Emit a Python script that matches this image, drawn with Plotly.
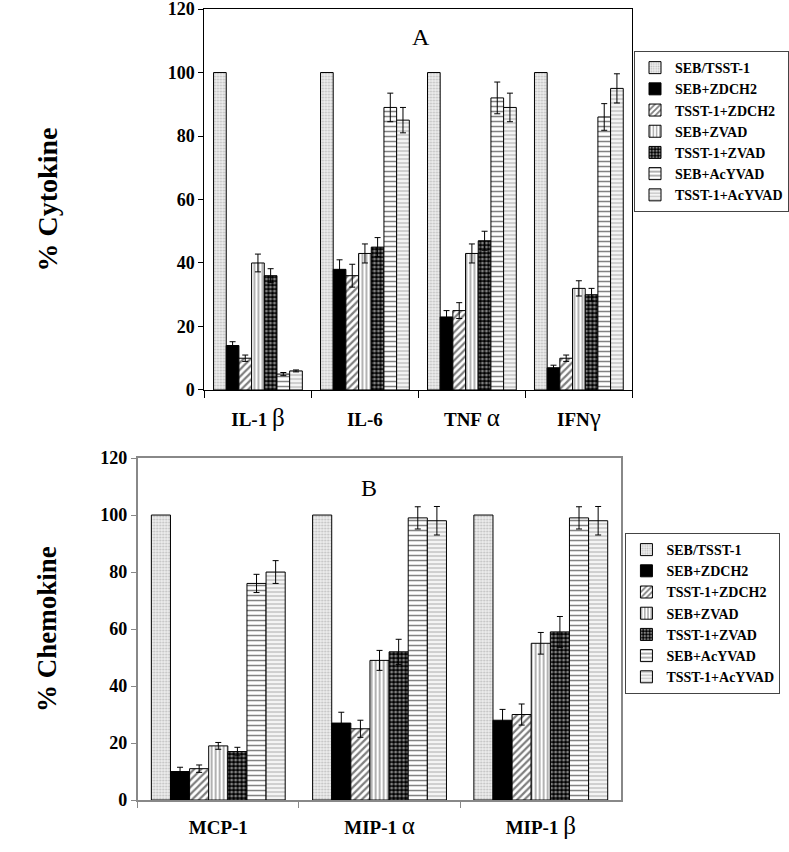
import plotly.graph_objects as go

series_names = ["SEB/TSST-1", "SEB+ZDCH2", "TSST-1+ZDCH2", "SEB+ZVAD",
                "TSST-1+ZVAD", "SEB+AcYVAD", "TSST-1+AcYVAD"]

cats_A = ["<b>IL-1</b> <span style='font-size:25px'>β</span>",
          "<b>IL-6</b>",
          "<b>TNF</b> <span style='font-size:25px'>α</span>",
          "<b>IFN</b><span style='font-size:25px'>γ</span>"]
cats_B = ["<b>MCP-1</b>",
          "<b>MIP-1</b> <span style='font-size:25px'>α</span>",
          "<b>MIP-1</b> <span style='font-size:25px'>β</span>"]

# values per series (one entry per category)
vals_A = [
    [100, 100, 100, 100],
    [14, 38, 23, 7],
    [10, 36, 25, 10],
    [40, 43, 43, 32],
    [36, 45, 47, 30],
    [5, 89, 92, 86],
    [6, 85, 89, 95],
]
errs_A = [
    [0, 0, 0, 0],
    [1.2, 3, 2, 0.8],
    [1, 3.6, 2.5, 1],
    [2.8, 3, 3, 2.4],
    [2.2, 3, 3, 2],
    [0.5, 4.5, 5, 4.2],
    [0.3, 4, 4.5, 4.6],
]
vals_B = [
    [100, 100, 100],
    [10, 27, 28],
    [11, 25, 30],
    [19, 49, 55],
    [17, 52, 59],
    [76, 99, 99],
    [80, 98, 98],
]
errs_B = [
    [0, 0, 0],
    [1.5, 3.8, 3.8],
    [1.3, 3, 3.7],
    [1.2, 3.5, 3.8],
    [1.5, 4.4, 5.4],
    [3.2, 3.9, 3.9],
    [4, 5, 5],
]

y_ticks = [0, 20, 40, 60, 80, 100, 120]

styles = [
    dict(color="#ededed", pattern=dict(shape=".", fgcolor="#8a8a8a", size=3, solidity=0.3)),
    dict(color="black", pattern=dict(shape="")),
    dict(color="white", pattern=dict(shape="/", fgcolor="black", size=5, solidity=0.45)),
    dict(color="white", pattern=dict(shape="|", fgcolor="black", size=4, solidity=0.3)),
    dict(color="black", pattern=dict(shape=".", fgcolor="white", size=4, solidity=0.45)),
    dict(color="white", pattern=dict(shape="-", fgcolor="black", size=5, solidity=0.3)),
    dict(color="#f4f4f4", pattern=dict(shape="-", fgcolor="#8a8a8a", size=4, solidity=0.35)),
]

FONT = "Liberation Serif"
fig = go.Figure()

for i, name in enumerate(series_names):
    st = styles[i]
    mk = dict(color=st["color"], pattern=st["pattern"], line=dict(color="black", width=1))
    eA = errs_A[i]
    fig.add_trace(go.Bar(
        x=cats_A, y=vals_A[i], name=name, marker=mk,
        error_y=dict(type="data", array=eA, visible=any(e > 0 for e in eA),
                     color="black", thickness=1, width=3),
        xaxis="x", yaxis="y", legend="legend", showlegend=True))
    eB = errs_B[i]
    fig.add_trace(go.Bar(
        x=cats_B, y=vals_B[i], name=name, marker=mk,
        error_y=dict(type="data", array=eB, visible=any(e > 0 for e in eB),
                     color="black", thickness=1, width=3),
        xaxis="x2", yaxis="y2", legend="legend2", showlegend=True))

tickfont_y = dict(family=FONT, size=18, color="black", weight="bold")
tickfont_x = dict(family=FONT, size=19, color="black")

fig.update_layout(
    width=789, height=852,
    margin=dict(l=0, r=0, t=0, b=0),
    paper_bgcolor="white", plot_bgcolor="white",
    barmode="group", bargap=0.17, bargroupgap=0,
    font=dict(family=FONT, color="black"),
    xaxis=dict(domain=[0.2598, 0.8035], anchor="y", showline=True, linecolor="black",
               linewidth=1, mirror=True, ticks="outside", tickson="boundaries",
               ticklen=7, tickcolor="black", tickfont=tickfont_x, automargin=False,
               ticklabelstandoff=12, showgrid=False),
    yaxis=dict(domain=[0.5423, 0.9894], anchor="x", range=[0, 120], tickvals=y_ticks,
               showline=True, linecolor="black", linewidth=1, mirror=True,
               ticks="outside", ticklen=5, tickcolor="black", tickfont=tickfont_y,
               showgrid=False, zeroline=False, automargin=False,
               ticklabeloverflow="allow",
               title=dict(text="% Cytokine", standoff=102,
                          font=dict(family=FONT, size=28, weight="bold"))),
    xaxis2=dict(domain=[0.1749, 0.7896], anchor="y2", showline=True, linecolor="#888888",
                linewidth=1.5, mirror=True, ticks="outside", tickson="boundaries",
                ticklen=6, tickcolor="#888888", tickfont=tickfont_x, automargin=False,
                ticklabelstandoff=9, showgrid=False),
    yaxis2=dict(domain=[0.0610, 0.4624], anchor="x2", range=[0, 120], tickvals=y_ticks,
                showline=True, linecolor="#888888", linewidth=1.5, mirror=True,
                ticks="outside", ticklen=5, tickcolor="#888888", tickfont=tickfont_y,
                showgrid=False, zeroline=False, automargin=False,
                ticklabeloverflow="allow",
                title=dict(text="% Chemokine", standoff=36,
                           font=dict(family=FONT, size=27, weight="bold"))),
    legend=dict(x=0.806, y=0.9401, xanchor="left", yanchor="top",
                bordercolor="#444444", borderwidth=1, bgcolor="white",
                font=dict(family=FONT, size=14, weight="bold", color="black"),
                tracegroupgap=0, itemwidth=30),
    legend2=dict(x=0.7947, y=0.3744, xanchor="left", yanchor="top",
                 bordercolor="#444444", borderwidth=1, bgcolor="white",
                 font=dict(family=FONT, size=14, weight="bold", color="black"),
                 tracegroupgap=0, itemwidth=30),
    annotations=[
        dict(text="A", x=0.5349, y=0.9566, xref="paper", yref="paper",
             xanchor="center", yanchor="middle",
             showarrow=False, font=dict(family=FONT, size=24, color="black")),
        dict(text="B", x=0.469, y=0.4272, xref="paper", yref="paper",
             xanchor="center", yanchor="middle",
             showarrow=False, font=dict(family=FONT, size=24, color="black")),
    ],
)

fig.write_html("out.html", config={"displayModeBar": False},
               post_script="document.body.style.margin='0';")
